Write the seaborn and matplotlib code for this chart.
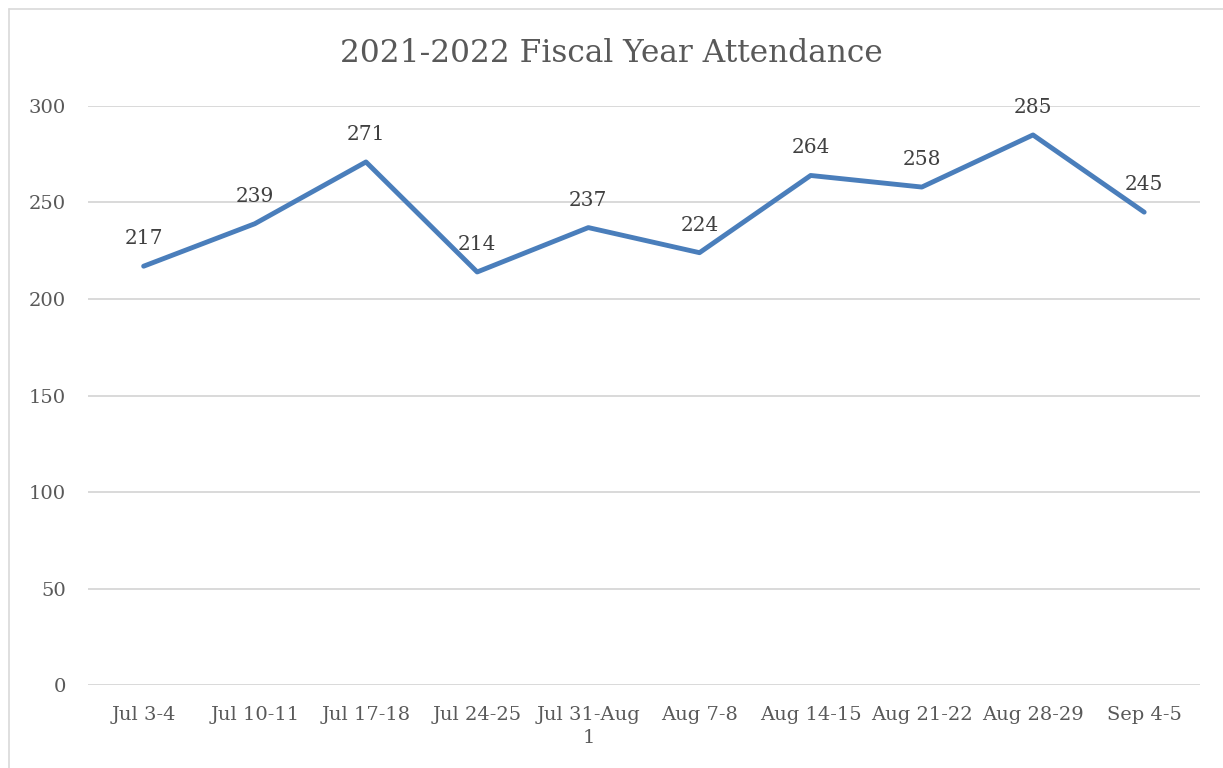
import pandas as pd
import seaborn as sns
import matplotlib.pyplot as plt
from matplotlib.lines import Line2D

weeks = ["Jul 3-4", "Jul 10-11", "Jul 17-18", "Jul 24-25", "Jul 31-Aug\n1",
         "Aug 7-8", "Aug 14-15", "Aug 21-22", "Aug 28-29", "Sep 4-5"]
attendance = [217, 239, 271, 214, 237, 224, 264, 258, 285, 245]

df = pd.DataFrame({"Week": weeks, "Attendance": attendance})

sns.set_style("white")
plt.rcParams["font.family"] = ["DejaVu Serif"]

fig = plt.figure(figsize=(12.23, 7.68), dpi=100)
ax = fig.add_axes([0.072, 0.108, 0.909, 0.754])

sns.lineplot(x="Week", y="Attendance", data=df, ax=ax, color="#4a7ebb",
             linewidth=3.5, sort=False)

# data labels above each point
for i, v in enumerate(attendance):
    ax.annotate(str(v), (i, v), xytext=(0, 13), textcoords="offset points",
                ha="center", va="bottom", fontsize=14.5, color="#404040")

ax.set_xlim(-0.5, len(weeks) - 0.5)
ax.set_ylim(0, 300)
ax.set_yticks(range(0, 301, 50))
ax.yaxis.grid(True, color="#d9d9d9", linewidth=1.4)
ax.set_axisbelow(True)
for s in ax.spines.values():
    s.set_visible(False)
ax.tick_params(axis="both", length=0, labelsize=14, colors="#595959")
ax.tick_params(axis="y", pad=16)
ax.tick_params(axis="x", pad=15)
for lbl in ax.get_xticklabels():
    lbl.set_linespacing(1.35)
ax.set_xlabel("")
ax.set_ylabel("")

fig.suptitle("2021-2022 Fiscal Year Attendance", y=0.95, fontsize=22.5,
             color="#595959")

# chart border (top and left)
fig.add_artist(Line2D([9 / 1223, 1], [1 - 9 / 768, 1 - 9 / 768],
                      color="#d9d9d9", linewidth=1.2))
fig.add_artist(Line2D([9 / 1223, 9 / 1223], [0, 1 - 9 / 768],
                      color="#d9d9d9", linewidth=1.2))

plt.savefig("out.png", dpi=100)
